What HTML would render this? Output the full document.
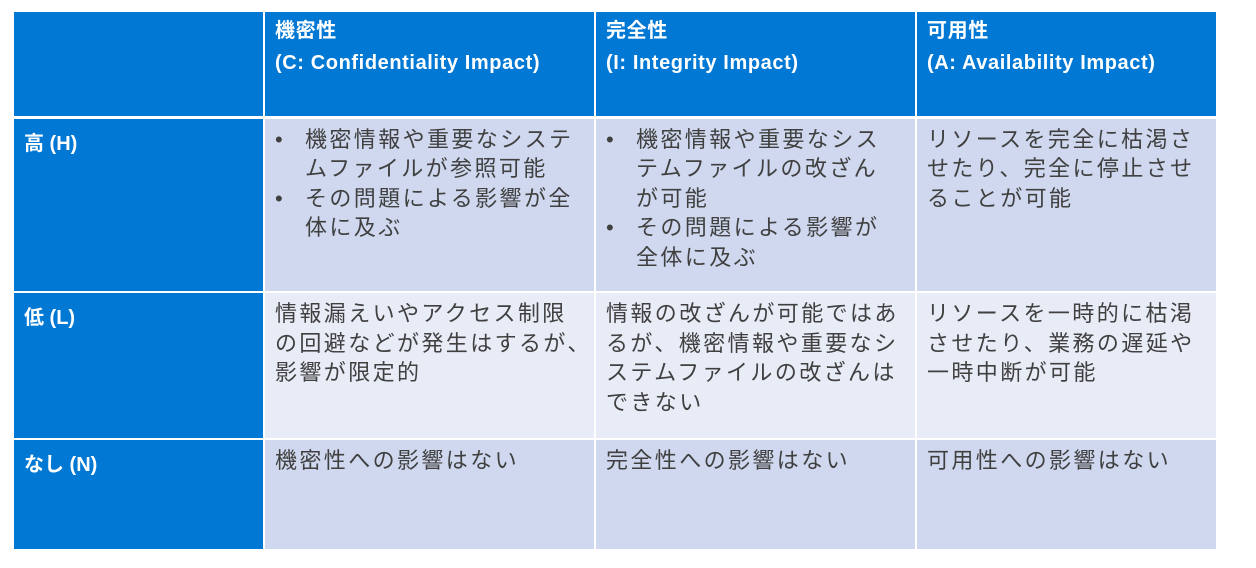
<!DOCTYPE html>
<html><head><meta charset="utf-8"><style>
body{margin:0;width:1256px;height:568px;background:#fff;overflow:hidden;font-family:"Liberation Sans","Noto Sans CJK JP",sans-serif;}
table{position:absolute;left:12px;top:10px;border-collapse:collapse;table-layout:fixed;}
td{padding:0;vertical-align:top;border:2px solid #fff;}
tr.h td{background:#0078D4;color:#fff;font-weight:bold;font-size:20px;line-height:32px;height:106px;padding:3px 0 0 10px;box-sizing:border-box;letter-spacing:0.6px;}
tr.h{border-bottom:3px solid #fff;}
td.l{background:#0078D4;color:#fff;font-weight:bold;font-size:20px;padding:8px 0 0 10px;}
tr.r1 td.c,tr.r3 td.c{background:#CFD8EE;}
tr.r2 td.c{background:#E8ECF7;}
td.c{color:#404040;font-size:22px;line-height:29.5px;padding:6px 0 0 10px;letter-spacing:2.4px;white-space:nowrap;overflow:hidden;}
ul{margin:0;padding:0 0 0 30px;list-style:none;}
li{position:relative;}
li:before{content:"•";position:absolute;left:-30px;}
</style></head><body>
<table>
<colgroup><col style="width:251px"><col style="width:331px"><col style="width:321px"><col style="width:301px"></colgroup>
<tr class="h"><td></td><td>機密性<br>(C: Confidentiality Impact)</td><td>完全性<br>(I: Integrity Impact)</td><td>可用性<br>(A: Availability Impact)</td></tr>
<tr class="r1" style="height:175px"><td class="l">高 (H)</td><td class="c"><ul><li>機密情報や重要なシステ<br>ムファイルが参照可能</li><li>その問題による影響が全<br>体に及ぶ</li></ul></td><td class="c"><ul><li>機密情報や重要なシス<br>テムファイルの改ざん<br>が可能</li><li>その問題による影響が<br>全体に及ぶ</li></ul></td><td class="c">リソースを完全に枯渇さ<br>せたり、完全に停止させ<br>ることが可能</td></tr>
<tr class="r2" style="height:147px"><td class="l">低 (L)</td><td class="c">情報漏えいやアクセス制限<br>の回避などが発生はするが、<br>影響が限定的</td><td class="c">情報の改ざんが可能ではあ<br>るが、機密情報や重要なシ<br>ステムファイルの改ざんは<br>できない</td><td class="c">リソースを一時的に枯渇<br>させたり、業務の遅延や<br>一時中断が可能</td></tr>
<tr class="r3" style="height:111px"><td class="l">なし (N)</td><td class="c">機密性への影響はない</td><td class="c">完全性への影響はない</td><td class="c">可用性への影響はない</td></tr>
</table>
</body></html>
